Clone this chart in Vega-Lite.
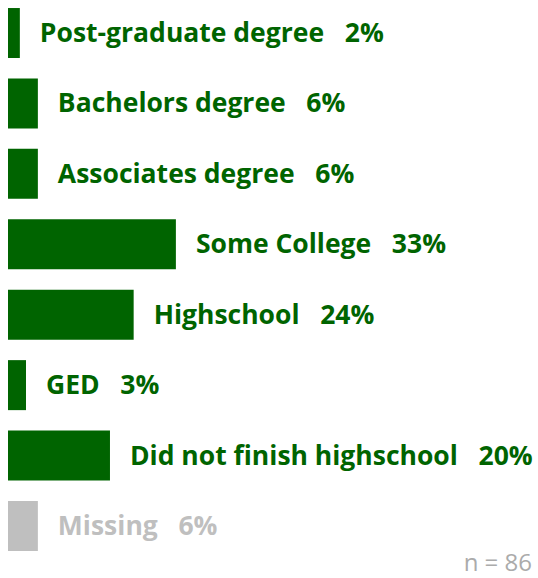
{
  "$schema": "https://vega.github.io/schema/vega-lite/v6.json",
  "width": 515,
  "height": 559,
  "autosize": "none",
  "padding": {"left": 8, "top": 0, "right": 15, "bottom": 19},
  "background": "white",
  "view": {"stroke": null},
  "title": {"text": "n = 86", "orient": "bottom", "anchor": "end", "frame": "group", "dx": 9, "offset": -7, "fontSize": 24, "font": "Open Sans", "fontWeight": "normal", "color": "#ABABAB"},
  "data": {"values": [
    {"cat": "Post-graduate degree", "pct": 2.3, "lbl": "2%", "grp": "a"},
    {"cat": "Bachelors degree", "pct": 5.8, "lbl": "6%", "grp": "a"},
    {"cat": "Associates degree", "pct": 5.8, "lbl": "6%", "grp": "a"},
    {"cat": "Some College", "pct": 32.6, "lbl": "33%", "grp": "a"},
    {"cat": "Highschool", "pct": 24.4, "lbl": "24%", "grp": "a"},
    {"cat": "GED", "pct": 3.5, "lbl": "3%", "grp": "a"},
    {"cat": "Did not finish highschool", "pct": 19.8, "lbl": "20%", "grp": "a"},
    {"cat": "Missing", "pct": 5.8, "lbl": "6%", "grp": "m"}
  ]},
  "transform": [{"calculate": "datum.cat + '\u00a0\u00a0\u00a0' + datum.lbl", "as": "text"}],
  "encoding": {
    "y": {"field": "cat", "type": "nominal", "sort": null, "axis": null,
          "scale": {"paddingInner": 0.29, "paddingOuter": 0.114}},
    "x": {"field": "pct", "type": "quantitative", "axis": null, "scale": {"domain": [0, 100]}},
    "color": {"field": "grp", "type": "nominal", "legend": null,
              "scale": {"domain": ["a", "m"], "range": ["#006400", "#BFBFBF"]}}
  },
  "layer": [
    {"mark": {"type": "bar"}},
    {"mark": {"type": "text", "align": "left", "baseline": "middle", "dx": 20, "dy": 1, "font": "Open Sans", "fontWeight": "bold", "fontSize": 26.5},
     "encoding": {"text": {"field": "text"}}}
  ]
}
